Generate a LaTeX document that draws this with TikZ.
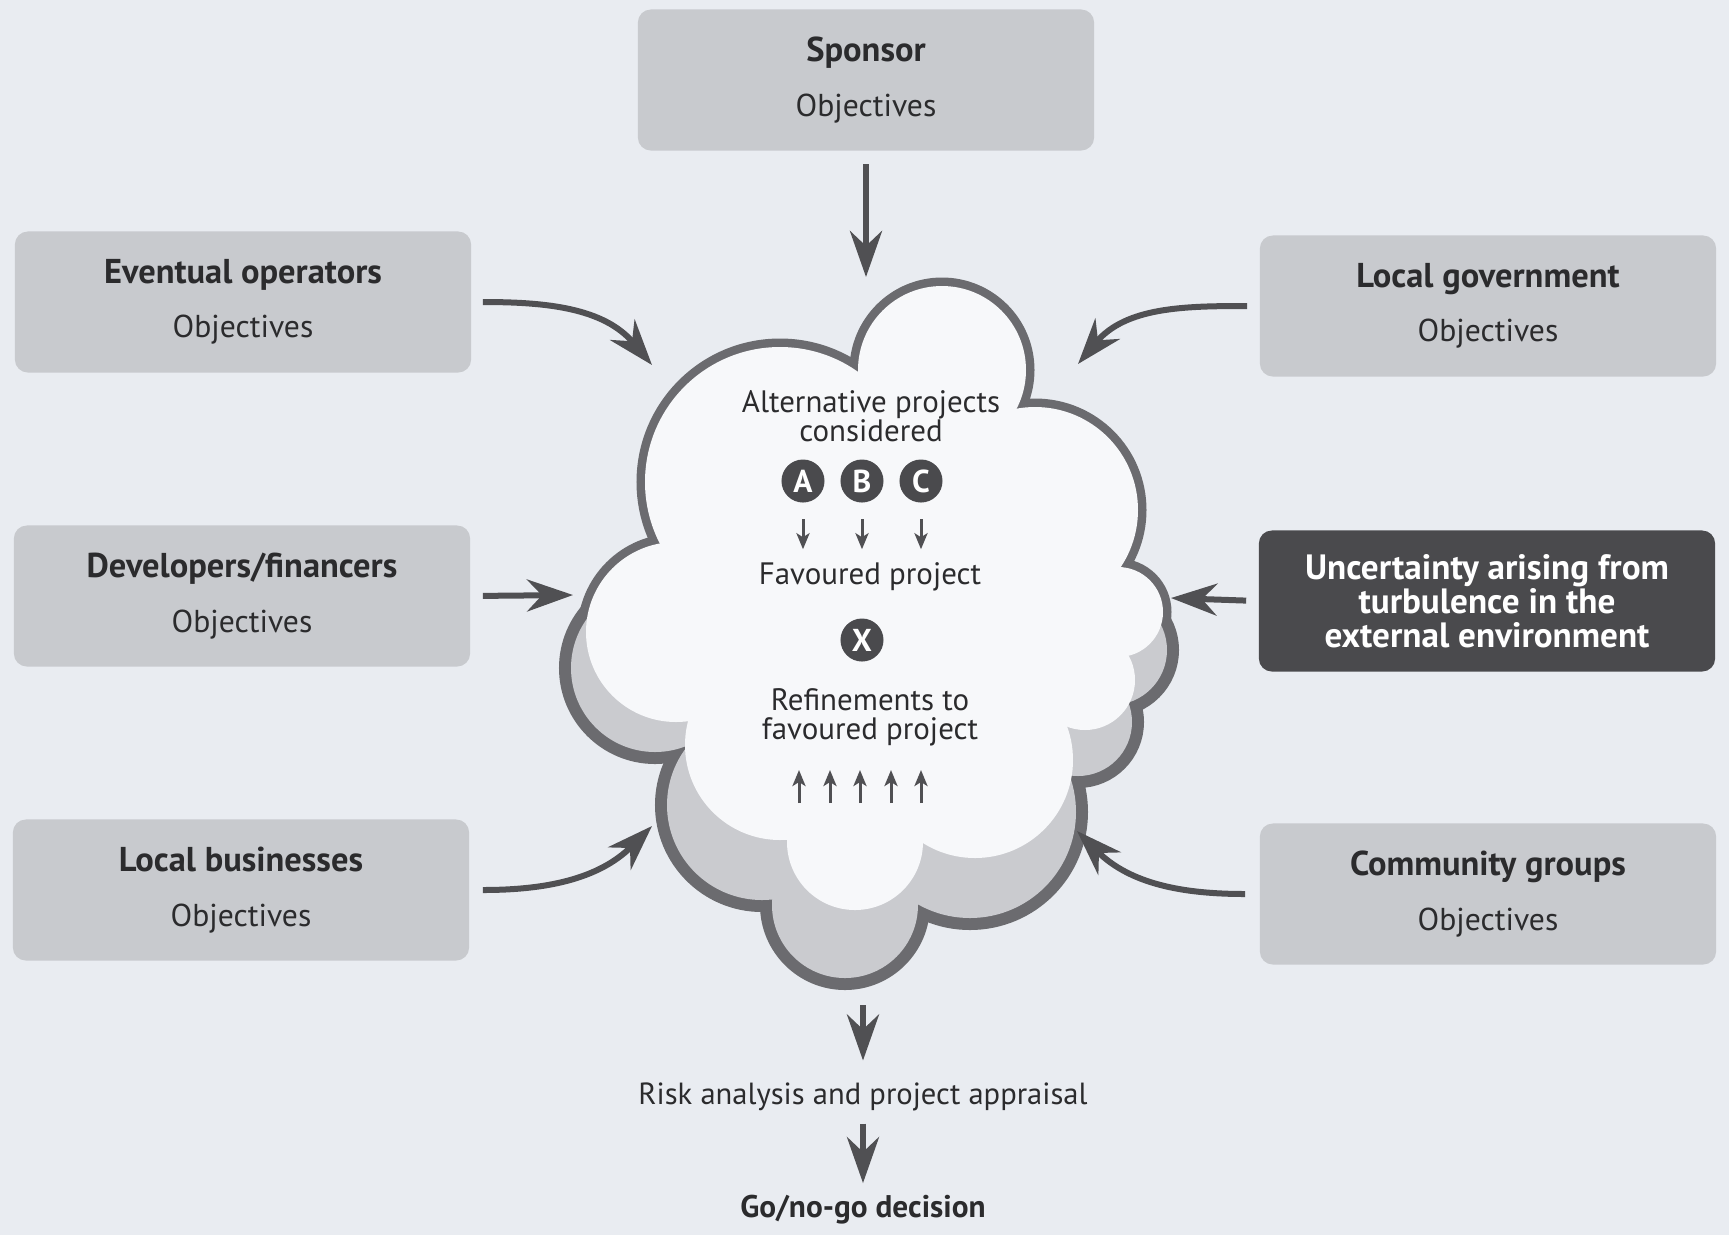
\documentclass[tikz,border=0pt]{standalone}
\usepackage{fontspec}
\setmainfont{PT Sans}
\usetikzlibrary{arrows.meta}

\definecolor{paper}{HTML}{E9ECF1}
\definecolor{boxgrey}{HTML}{C8CACE}
\definecolor{darkbox}{HTML}{4A4A4D}
\definecolor{ink}{HTML}{2B2B2D}
\definecolor{arrowgrey}{HTML}{505053}
\definecolor{rimgrey}{HTML}{6B6B6F}
\definecolor{shadegrey}{HTML}{CACBCF}
\definecolor{cloudface}{HTML}{F7F8FA}

\newcommand\stake[1]{{\fontsize{9.8}{11}\selectfont\bfseries #1}\\[4.5pt]Objectives}
\def\frontpuffs{780/482/135, 942/370/84, 1035/510/103, 1118/612/45, 1085/680/50, 975/760/98, 855/842/68, 780/745/95, 676/632/90}
\def\backpuffs{1112/650/55, 1078/722/54, 970/812/106, 845/905/73, 762/805/95, 655/668/84}

\begin{document}
\begin{tikzpicture}[x=0.01cm, y=-0.01cm,
    party/.style={fill=boxgrey, rounded corners=0.13cm, minimum width=4.56cm, minimum height=1.41cm,
      align=center, text=ink, font=\fontsize{9}{11}\selectfont},
    unrest/.style={party, fill=darkbox, text=white, font=\fontsize{10}{9.6}\selectfont\bfseries},
    cloudtext/.style={align=center, text=ink, font=\fontsize{8.8}{8.3}\selectfont},
    option/.style={circle, fill=darkbox, text=white, inner sep=0pt, minimum size=0.43cm,
      font=\fontsize{9}{9}\selectfont\bfseries},
    bigarrow/.style={draw=arrowgrey, line width=0.06cm, -{Stealth[length=0.46cm, width=0.32cm, inset=0.15cm]}},
    smallarrow/.style={draw=arrowgrey, line width=0.03cm, -{Stealth[length=0.16cm, width=0.13cm, inset=0.04cm]}}]

  \fill[paper] (0,0) rectangle (1729,1235);
  \useasboundingbox (0,0) rectangle (1729,1235);

  \foreach \px/\py/\pr in \backpuffs {\draw[rimgrey, line width=0.24cm] (\px,\py) circle (\pr);}
  \foreach \px/\py/\pr in \frontpuffs {\draw[rimgrey, line width=0.17cm] (\px,\py) circle (\pr);}
  \foreach \px/\py/\pr in \backpuffs {\fill[shadegrey] (\px,\py) circle (\pr);}
  \foreach \px/\py/\pr in \frontpuffs {\fill[cloudface] (\px,\py) circle (\pr);}
  \fill[cloudface] (780,482) -- (942,370) -- (1035,510) -- (1118,612) -- (1085,680) -- (975,760)
    -- (855,842) -- (780,745) -- (676,632) -- cycle;

  \node[party] (sponsor) at (866,80) {\stake{Sponsor}};
  \node[party] (operators) at (243,302) {\stake{Eventual operators}};
  \node[party] (government) at (1488,306) {\stake{Local government}};
  \node[party] (developers) at (242,596) {\stake{Developers/financers}};
  \node[unrest] (turbulence) at (1487,601) {Uncertainty arising from\\turbulence in the\\external environment};
  \node[party] (businesses) at (241,890) {\stake{Local businesses}};
  \node[party] (community) at (1488,894) {\stake{Community groups}};

  \coordinate (c-n) at (866,277);
  \coordinate (c-nw) at (652,365);
  \coordinate (c-ne) at (1078,364);
  \coordinate (c-w) at (573,595);
  \coordinate (c-e) at (1171,598);
  \coordinate (c-sw) at (652,826);
  \coordinate (c-se) at (1077,831);
  \coordinate (c-s) at (863,1005);
  \coordinate (lift) at (860,803);

  \node[cloudtext] (alternatives) at (871,416) {Alternative projects\\considered};
  \node[option] (optA) at (803,481) {A};
  \node[option] (optB) at (862,481) {B};
  \node[option] (optC) at (921,481) {C};
  \node[cloudtext] (favoured) at (870,577) {Favoured project};
  \node[option] (optX) at (862,640) {X};
  \node[cloudtext] (refine) at (870,717) {Refinements to\\favoured project};

  \foreach \o in {A,B,C}
    \draw[smallarrow] ([yshift=-0.16cm]opt\o.south) -- ([yshift=-0.46cm]opt\o.south);
  \foreach \dx in {-61,-30,0,31,61}
    \draw[smallarrow] (lift) ++(\dx,0) -- ++(0,-33);

  \node[text=ink, font=\fontsize{8.7}{11}\selectfont] (appraisal) at (863,1097) {Risk analysis and project appraisal};
  \node[text=ink, font=\fontsize{8.9}{11}\selectfont\bfseries] (decision) at (863,1210) {Go/no-go decision};

  \draw[bigarrow, shorten <=0.13cm] (sponsor.south) -- (c-n);
  \draw[bigarrow, shorten <=0.11cm] (operators.east) to[out=0, in=130] (c-nw);
  \draw[bigarrow, shorten <=0.12cm] (government.west) to[out=180, in=50] (c-ne);
  \draw[bigarrow, shorten <=0.12cm] (developers.east) -- (c-w);
  \draw[bigarrow, shorten <=0.12cm] (turbulence.west) -- (c-e);
  \draw[bigarrow, shorten <=0.13cm] (businesses.east) to[out=0, in=225] (c-sw);
  \draw[bigarrow, shorten <=0.14cm] (community.west) to[out=180, in=-45] (c-se);
  \draw[bigarrow, shorten >=0.1cm] (c-s) -- (appraisal);
  \draw[bigarrow] (appraisal) -- (decision);
\end{tikzpicture}
\end{document}
